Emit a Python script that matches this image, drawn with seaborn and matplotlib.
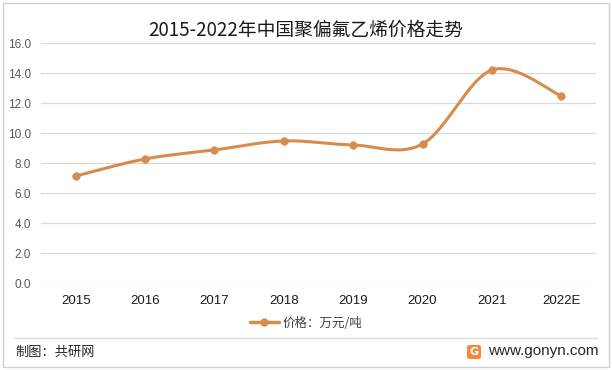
import numpy as np
import pandas as pd
import matplotlib.pyplot as plt
import seaborn as sns
from matplotlib.patches import FancyBboxPatch, Rectangle
from matplotlib.lines import Line2D

years = ["2015", "2016", "2017", "2018", "2019", "2020", "2021", "2022E"]
price = [7.13, 8.27, 8.87, 9.47, 9.2, 9.27, 14.2, 12.47]
yticks = [0, 2, 4, 6, 8, 10, 12, 14, 16]

title = "2015-2022年中国聚偏氟乙烯价格走势"
legend_label = "价格：万元/吨"
source = "制图：共研网"
site = "www.gonyn.com"

line_color = "#D78B4C"

sns.set_theme(style="white")
plt.rcParams['font.family'] = ['Noto Sans CJK SC', 'DejaVu Sans']


# excel style smoothing (catmull-rom bezier through the points)
def smooth(y, n=40):
    x = np.arange(len(y), dtype=float)
    y = np.asarray(y, dtype=float)
    xs, ys = [], []
    for i in range(len(y) - 1):
        p0 = (x[max(i - 1, 0)], y[max(i - 1, 0)])
        p1 = (x[i], y[i])
        p2 = (x[i + 1], y[i + 1])
        p3 = (x[min(i + 2, len(y) - 1)], y[min(i + 2, len(y) - 1)])
        c1 = (p1[0] + (p2[0] - p0[0]) / 6, p1[1] + (p2[1] - p0[1]) / 6)
        c2 = (p2[0] - (p3[0] - p1[0]) / 6, p2[1] - (p3[1] - p1[1]) / 6)
        t = np.linspace(0, 1, n)
        for k in range(2):
            b = ((1 - t) ** 3 * p1[k] + 3 * (1 - t) ** 2 * t * c1[k]
                 + 3 * (1 - t) * t ** 2 * c2[k] + t ** 3 * p2[k])
            (xs if k == 0 else ys).append(b)
    return np.concatenate(xs), np.concatenate(ys)


sx, sy = smooth(price)
curve = pd.DataFrame({"x": sx, "y": sy})
pts = pd.DataFrame({"x": np.arange(len(years)), "y": price})

fig = plt.figure(figsize=(6.12, 3.7), dpi=100)
ax = fig.add_axes([41 / 612, 1 - 283 / 370, 555 / 612, 240 / 370])

sns.lineplot(data=curve, x="x", y="y", ax=ax, color=line_color, linewidth=2.2, sort=False)
sns.scatterplot(data=pts, x="x", y="y", ax=ax, color=line_color, s=30, edgecolor=line_color, zorder=5)

ax.set_xlim(-0.5, len(years) - 0.5)
ax.set_ylim(0, 16)
ax.set_yticks(yticks)
ax.set_yticklabels([f"{v:.1f}" for v in yticks], color="#595959", fontsize=8.5,
                   family=['Liberation Sans'])
ax.set_xticks(range(len(years)))
ax.set_xticklabels(years, color="#1a1a1a", fontsize=9.5, family=['Liberation Sans'])
ax.tick_params(axis="x", length=0, pad=9)
ax.tick_params(axis="y", length=0, pad=7)
ax.set_xlabel("")
ax.set_ylabel("")
ax.grid(axis="y", color="#d9d9d9", linewidth=0.9)
ax.set_axisbelow(True)
for s in ax.spines.values():
    s.set_visible(False)

fig.text(0.5, 1 - 30 / 370, title, ha="center", va="center", fontsize=13.5, color="#1a1a1a")

h = Line2D([], [], color=line_color, linewidth=2.5, marker="o", markersize=5)
fig.legend([h], [legend_label], loc="center", bbox_to_anchor=(0.5, 1 - 323 / 370),
           frameon=False, fontsize=9, handlelength=2.3, handletextpad=0.3,
           labelcolor="#404040")

# frame and footer
fig.add_artist(Rectangle((3 / 612, 3 / 370), 606 / 612, 364 / 370, transform=fig.transFigure,
                         fill=False, edgecolor="#d0d0d0", linewidth=1))
fig.add_artist(Line2D([14 / 612, 598 / 612], [1 - 338 / 370] * 2, color="#dedede", linewidth=1))
fig.text(15 / 612, 1 - 352 / 370, source, ha="left", va="center", fontsize=9.5, color="#262626")
fig.text(599 / 612, 1 - 351 / 370, site, ha="right", va="center", fontsize=11, color="#262626",
         family=['Liberation Sans'])
fig.add_artist(FancyBboxPatch((467 / 612, 1 - 359 / 370), 14 / 612, 14 / 370,
                              boxstyle="round,pad=0,rounding_size=0.005",
                              transform=fig.transFigure, facecolor="#F08A3C", edgecolor="none"))
fig.text(474 / 612, 1 - 352 / 370, "G", ha="center", va="center", fontsize=8, color="white",
         weight="bold", family=['DejaVu Sans'])

fig.savefig("out.png", dpi=100)
